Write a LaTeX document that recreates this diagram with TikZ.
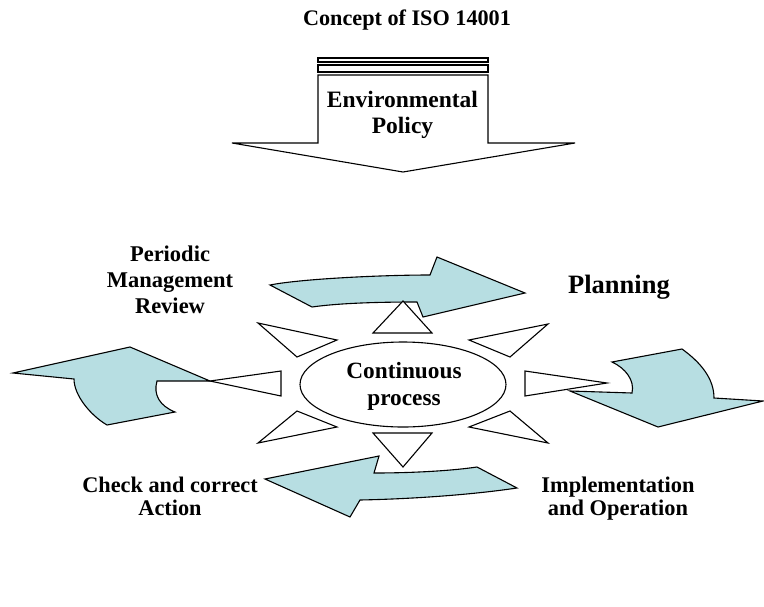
\documentclass[tikz,border=0pt]{standalone}
\usepackage{fontspec}
\setmainfont{Liberation Serif}
\begin{document}
\begin{tikzpicture}[x=1pt,y=-1pt,
  outline/.style={draw=black,line width=1.1pt,line join=miter},
  bluearrow/.style={outline,fill=cyclefill},
  ray/.style={outline,fill=white},
  label/.style={font=\bfseries,align=center,inner sep=0pt,anchor=base}]
\definecolor{cyclefill}{RGB}{183,222,226}
\useasboundingbox (0,0) rectangle (764,606);

% title
\node[label,font=\bfseries\fontsize{22.2}{26}\selectfont] (title) at (407,25) {Concept of ISO 14001};

% policy block arrow pointing down
\draw[ray] (318,58) rectangle (488,62);
\draw[ray] (318,65) rectangle (488,72);
\draw[ray] (318,75) -- (488,75) -- (488,143) -- (575,143) -- (403,172)
  -- (232,143) -- (318,143) -- cycle;
% (base anchor of a multi-line node sits on its last line)
\node[label,font=\bfseries\fontsize{23.5}{26}\selectfont] (policy) at (402.5,133) {Environmental\\Policy};

% cycle arrows
\draw[bluearrow] (270,285) .. controls (300,279) and (380,275) .. (430,275)
  -- (437,257) -- (525,293) -- (423,317) -- (417,302)
  .. controls (380,302) and (340,303) .. (312,307) -- cycle;
\draw[bluearrow] (570,391) -- (632,393) .. controls (635,380) and (625,368) .. (612,362)
  -- (682,349) .. controls (700,362) and (714,378) .. (714,398)
  -- (763,401) -- (658,427) -- cycle;
\draw[bluearrow] (265,479) -- (379,456) -- (374,473)
  .. controls (410,473) and (450,471) .. (477,467) -- (517,488)
  .. controls (470,495) and (410,499) .. (360,500) -- (350,517) -- cycle;
\draw[bluearrow] (13,373) -- (130,347) -- (210,381) -- (157,381)
  .. controls (153,395) and (160,406) .. (175,412) -- (107,425)
  .. controls (90,415) and (74,395) .. (74,379) -- cycle;

% rays around the centre
\draw[ray] (403,301) -- (432,333) -- (373,333) -- cycle;
\draw[ray] (403,467) -- (432,433) -- (373,433) -- cycle;
\draw[ray] (210,381) -- (281,371) -- (281,396) -- cycle;
\draw[ray] (607,383) -- (525,371) -- (525,396) -- cycle;
\draw[ray] (258,323) -- (337,340) -- (297,357) -- cycle;
\draw[ray] (548,324) -- (469,340) -- (510,357) -- cycle;
\draw[ray] (258,443) -- (337,427) -- (297,411) -- cycle;
\draw[ray] (548,443) -- (469,427) -- (510,411) -- cycle;

% centre
\draw[outline,fill=white] (403,384.5) ellipse [x radius=103, y radius=42.5];
\node[label,font=\bfseries\fontsize{23.3}{27}\selectfont] (centre) at (404,405) {Continuous\\process};

% stage labels
\node[label,font=\bfseries\fontsize{22.5}{26}\selectfont] (review) at (170,313) {Periodic\\Management\\Review};
\node[label,font=\bfseries\fontsize{26.5}{30}\selectfont] (plan) at (619,293) {Planning};
\node[label,font=\bfseries\fontsize{22.3}{23}\selectfont] (check) at (170,515) {Check and correct\\Action};
\node[label,font=\bfseries\fontsize{22.4}{23}\selectfont] (impl) at (618,515) {Implementation\\and Operation};
\end{tikzpicture}
\end{document}
